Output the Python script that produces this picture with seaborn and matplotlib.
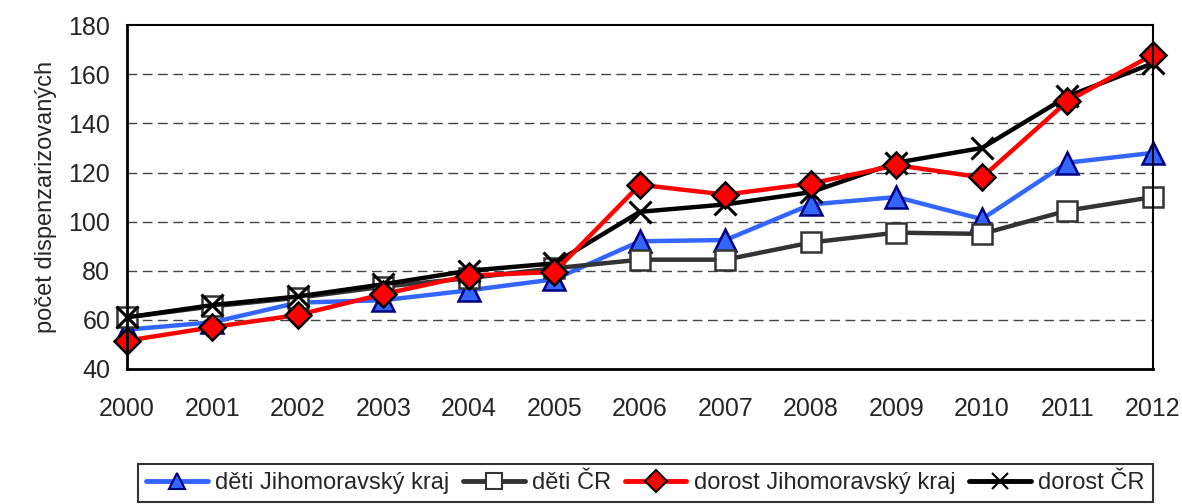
import numpy as np
import pandas as pd
import matplotlib
matplotlib.use("Agg")
import matplotlib.pyplot as plt
import seaborn as sns
from matplotlib.lines import Line2D

# data
years = list(range(2000, 2013))
deti_jmk = [56, 59, 67, 68, 72, 76.5, 92, 92.5, 107, 110, 101, 124, 128]
deti_cr = [61, 65.5, 69, 73.5, 77, 81, 84.5, 84.5, 91.5, 95.5, 95, 104.5, 110]
dorost_jmk = [51.5, 57, 62, 70.5, 78, 79.5, 115, 111, 115.5, 123, 118, 149, 168]
dorost_cr = [61, 66, 69.5, 74.5, 80, 83, 104, 107, 112, 124, 130, 151, 164.5]
series_names = ["děti Jihomoravský kraj", "děti ČR",
                "dorost Jihomoravský kraj", "dorost ČR"]

df = pd.DataFrame({"rok": years,
                   series_names[0]: deti_jmk,
                   series_names[1]: deti_cr,
                   series_names[2]: dorost_jmk,
                   series_names[3]: dorost_cr})
long_df = df.melt(id_vars="rok", var_name="skupina", value_name="pocet")

sns.set_style("white")
plt.rcParams["font.family"] = ["Liberation Sans", "DejaVu Sans"]

styles = {
    series_names[0]: dict(color="#3366ff", marker="^", mfc="#3366ff", mec="#000080", ms=16),
    series_names[1]: dict(color="#333333", marker="s", mfc="white", mec="#333333", ms=15),
    series_names[2]: dict(color="#ff0000", marker="D", mfc="#ff0000", mec="black", ms=13),
    series_names[3]: dict(color="black", marker="x", mfc="black", mec="black", ms=16),
}
# red drawn last so its diamonds sit on top, legend keeps original order
draw_order = [series_names[0], series_names[1], series_names[3], series_names[2]]

fig = plt.figure(figsize=(11.82, 5.04), dpi=100)
ax = fig.add_axes([0.1074, 0.268, 0.868, 0.682])

for name in draw_order:
    st = styles[name]
    sub = long_df[long_df["skupina"] == name]
    sns.lineplot(data=sub, x="rok", y="pocet", ax=ax, color=st["color"],
                 linewidth=3.2, marker=st["marker"], markersize=st["ms"],
                 markerfacecolor=st["mfc"], markeredgecolor=st["mec"],
                 markeredgewidth=1.8 if st["marker"] != "x" else 2.2,
                 legend=False, clip_on=False)

ax.set_xlim(2000, 2012)
ax.set_ylim(40, 180)
ax.set_xticks(years)
ax.set_yticks(range(40, 181, 20))
ax.tick_params(axis="both", labelsize=18, direction="out", length=6, width=2,
               color="black", pad=6)
ax.tick_params(axis="x", pad=14)
for s in ax.spines.values():
    s.set_color("black")
    s.set_linewidth(2)
ax.spines["top"].set_linewidth(1.5)
ax.spines["right"].set_linewidth(1.5)
for yv in range(60, 180, 20):
    ax.axhline(yv, color="#444444", linestyle=(0, (7, 4)), linewidth=1, zorder=0)
ax.set_xlabel("")
ax.set_ylabel("počet dispenzarizovaných", fontsize=17, labelpad=8)

leg_handles = []
for name in series_names:
    st = styles[name]
    leg_handles.append(Line2D([], [], color=st["color"], linewidth=3.5,
                              marker=st["marker"], markersize=11,
                              markerfacecolor=st["mfc"], markeredgecolor=st["mec"],
                              markeredgewidth=1.5))
leg = fig.legend(leg_handles, series_names, loc="lower center",
                 bbox_to_anchor=(0.546, -0.02), ncol=4, fontsize=17,
                 frameon=True, fancybox=False, edgecolor="black",
                 handlelength=2.6, handletextpad=0.3, columnspacing=0.6,
                 borderpad=0.35)
leg.get_frame().set_linewidth(1.5)

fig.savefig("out.png", dpi=100)
